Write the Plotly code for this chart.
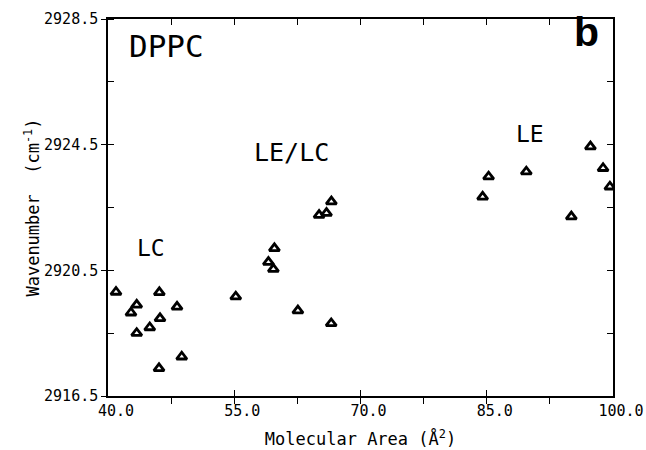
import plotly.graph_objects as go

# Molecular area (Å^2) and CH2 stretching wavenumber (cm^-1) for DPPC
area = [40.95, 42.73, 43.41, 43.41, 44.96, 46.10, 46.18, 46.06, 48.20, 48.76,
        55.18, 62.56,
        59.06, 59.65, 59.77, 65.08, 65.96, 66.54, 66.52,
        84.51, 85.22, 89.70, 95.05, 97.32, 98.82, 99.63]
wavenumber = [2919.81, 2919.15, 2919.40, 2918.50, 2918.68, 2919.80, 2918.97, 2917.38, 2919.34, 2917.75,
              2919.66, 2919.22,
              2920.76, 2920.54, 2921.20, 2922.26, 2922.32, 2922.69, 2918.81,
              2922.84, 2923.48, 2923.64, 2922.21, 2924.44, 2923.75, 2923.16]

x_range = [40.0, 100.0]
y_range = [2916.5, 2928.5]
x_major = [40.0, 55.0, 70.0, 85.0, 100.0]
y_major = [2916.5, 2920.5, 2924.5, 2928.5]

# phase-region labels: (text, x, y, size)
labels = [("DPPC", 47.0, 2927.65, 31),
          ("LE/LC", 61.8, 2924.24, 25),
          ("LC", 45.1, 2921.2, 23),
          ("LE", 90.1, 2924.84, 23)]

mono = "DejaVu Sans Mono"

fig = go.Figure()
fig.add_trace(go.Scatter(
    x=area, y=wavenumber, mode="markers",
    marker=dict(symbol="triangle-up-open", size=9, color="black",
                line=dict(width=2.8, color="black")),
    showlegend=False, hoverinfo="skip"))

axis_common = dict(showgrid=False, zeroline=False, showline=True,
                   linecolor="black", linewidth=1.5, tickcolor="black",
                   tickwidth=1.2, automargin=False)

fig.update_layout(
    width=646, height=450,
    margin=dict(l=108, r=33, t=19, b=54),
    paper_bgcolor="white", plot_bgcolor="white",
    font=dict(family=mono, color="black"),
    xaxis=dict(range=x_range, tickmode="array", tickvals=x_major,
               ticktext=[f"{v:.1f}" for v in x_major],
               ticks="inside", ticklen=6, ticklabelshift=8,
               minor=dict(dtick=7.5, tick0=40, ticks="outside", ticklen=6,
                          tickcolor="black", tickwidth=1.2),
               tickfont=dict(family=mono, size=15),
               title=dict(text="Molecular Area (Å<sup>2</sup>)",
                          font=dict(family=mono, size=17), standoff=14),
               **axis_common),
    yaxis=dict(range=y_range, tickmode="array", tickvals=y_major,
               ticktext=[f"{v:.1f}" for v in y_major],
               ticks="outside", ticklen=5,
               minor=dict(dtick=2, tick0=2916.5, ticks="inside", ticklen=6,
                          tickcolor="black", tickwidth=1.2),
               tickfont=dict(family=mono, size=15),
               title=dict(text="Wavenumber  (cm<sup>-1</sup>)",
                          font=dict(family=mono, size=17), standoff=0),
               **axis_common),
    xaxis2=dict(range=x_range, overlaying="x", side="top", anchor="y",
                matches="x", tickmode="linear", tick0=40, dtick=7.5,
                ticks="inside", ticklen=6, showticklabels=False,
                **axis_common),
    yaxis2=dict(range=y_range, overlaying="y", side="right", anchor="x",
                matches="y", tickmode="linear", tick0=2916.5, dtick=2,
                ticks="inside", ticklen=6, showticklabels=False,
                **axis_common),
)

# empty trace bound to the mirrored frame axes
fig.add_trace(go.Scatter(x=[None], y=[None], xaxis="x2", yaxis="y2",
                         showlegend=False, hoverinfo="skip"))

for text, x, y, size in labels:
    fig.add_annotation(x=x, y=y, xref="x", yref="y", text=text,
                       showarrow=False,
                       font=dict(family=mono, size=size, color="black"))

fig.add_annotation(x=96.85, y=2928.08, xref="x", yref="y", text="<b>b</b>",
                   showarrow=False,
                   font=dict(family="Liberation Sans", size=41, color="black"))

fig.write_html("out.html")
